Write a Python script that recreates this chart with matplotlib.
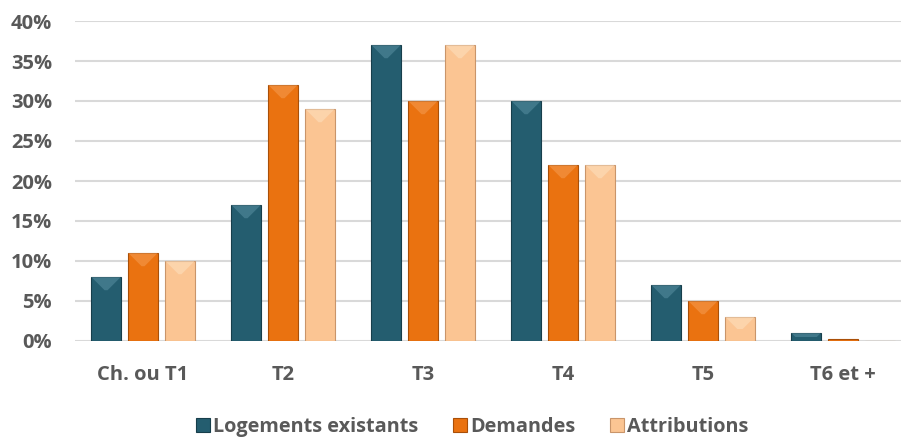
import matplotlib
matplotlib.use("Agg")
import matplotlib.pyplot as plt
import numpy as np
from matplotlib.patches import Polygon

plt.rcParams['font.family'] = ['Open Sans', 'DejaVu Sans']

categories = ["Ch. ou T1", "T2", "T3", "T4", "T5", "T6 et +"]
series = ["Logements existants", "Demandes", "Attributions"]
logements = [8, 17, 37, 30, 7, 1]
demandes = [11, 32, 30, 22, 5, 0.2]
attributions = [10, 29, 37, 22, 3, 0]
yticks = [0, 5, 10, 15, 20, 25, 30, 35, 40]

colors = ["#245d6f", "#ea7210", "#fbc593"]
edges = ["#173e4b", "#a94f08", "#c9956a"]
lights = ["#5d94a6", "#f6a159", "#fde3c4"]

fig = plt.figure(figsize=(9.01, 4.37), dpi=100)
ax = fig.add_axes([75 / 901, 96 / 437, 826 / 901, 320 / 437])

x = np.arange(len(categories))
step = 0.264
width = 0.21
vals = [logements, demandes, attributions]

px_x = 140.0   # pixels per category
px_y = 8.0     # pixels per 1 %
for i, v in enumerate(vals):
    bars = ax.bar(x + (i - 1) * step, v, width, color=colors[i], edgecolor=edges[i],
                  linewidth=0.8, label=series[i], zorder=3)
    # bevel on the top of each bar
    for b in bars:
        h = b.get_height()
        if h <= 0.3:
            continue
        bx, bw = b.get_x(), b.get_width()
        depth = min(bw * px_x * 0.45 / px_y, h / 2)
        inset = depth * px_y / px_x
        tri = Polygon([(bx, h), (bx + bw, h), (bx + bw - inset, h - depth),
                       (bx + inset, h - depth)], closed=True,
                      facecolor=lights[i], edgecolor='none', alpha=0.5, zorder=4)
        ax.add_patch(tri)

ax.set_xlim(-0.486, 5.414)
ax.set_ylim(0, 40)
ax.set_yticks(yticks)
ax.set_yticklabels([f"{t}%" for t in yticks])
ax.set_xticks(x)
ax.set_xticklabels(categories)

ax.grid(axis='y', color='#d9d9d9', linewidth=1.5, zorder=0)
ax.set_axisbelow(True)
for s in ax.spines.values():
    s.set_visible(False)
ax.tick_params(axis='both', length=0, labelsize=14.5, labelcolor='#595959')
ax.tick_params(axis='y', pad=16.5)
ax.tick_params(axis='x', pad=17)
for lab in ax.get_xticklabels() + ax.get_yticklabels():
    lab.set_fontweight('bold')

leg = fig.legend(loc='center', bbox_to_anchor=(472 / 901, 1 - 427 / 437), ncol=3,
                 frameon=False, handlelength=0.7, handleheight=0.7, handletextpad=0.15,
                 columnspacing=1.75, prop={'weight': 'bold', 'size': 14.3})
for t in leg.get_texts():
    t.set_color('#595959')

fig.savefig("out.png", dpi=100)
